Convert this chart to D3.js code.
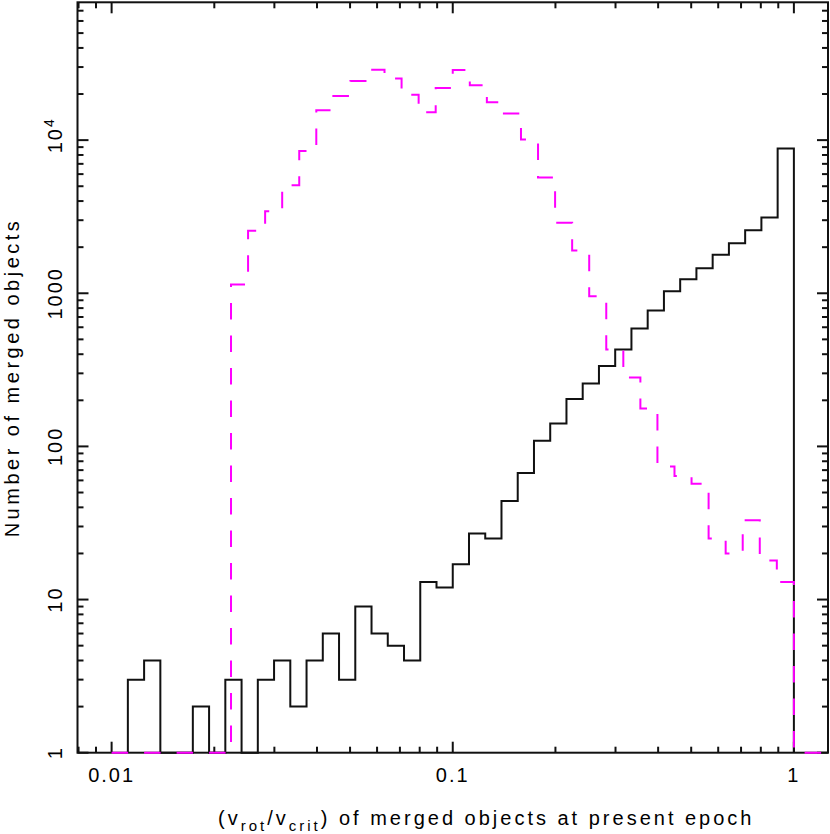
<!DOCTYPE html>
<html>
<head>
<meta charset="utf-8">
<script src="https://cdn.jsdelivr.net/npm/d3@7"></script>
<style>
  body { margin: 0; background: #fff; }
  text { font-family: "Liberation Sans", Arial, sans-serif; font-size: 20px; letter-spacing: 2px; fill: #000; }
</style>
</head>
<body>
<div id="chart"></div>
<script>
// black histogram: 21 bins per decade, first bin starts at log10 = -41/21
var blackLogStart = -41 / 21;
var blackLogStep = 1 / 21;
var blackCounts = [3, 4, 0, 0, 2, 0, 3, 0, 3, 4, 2, 4, 6, 3, 9, 6, 5, 4, 13, 12,
	17, 27, 25, 44, 67, 109, 141, 204, 258, 335, 430, 588, 771, 1030, 1235, 1458,
	1785, 2122, 2581, 3124, 8830];

// magenta (dashed) histogram: 0.05 dex bins starting at 0.01
var magentaLogStart = -2.0;
var magentaLogStep = 0.05;
var magentaCounts = [0, 0, 0, 0, 0, 0, 0, 1140, 2560, 3430, 5080, 8480, 15700,
	19400, 24300, 28800, 25300, 19800, 15200, 21900, 28700, 22800, 17700, 14900,
	10100, 5700, 2890, 1900, 956, 430, 282, 177, 74, 64, 57, 25, 20, 33, 18, 13, 0, 0];

var xTickValues = [0.01, 0.1, 1];
var xTickLabels = ["0.01", "0.1", "1"];
var yTickValues = [1, 10, 100, 1000, 10000];
var yTickLabels = ["1", "10", "100", "1000", "10^4"];

var width = 830, height = 834;
var margin = {left: 77.5, right: 2, top: 2.3, bottom: 81.3};

var svg = d3.select("#chart")
	.append("svg")
	.attr("width", width)
	.attr("height", height);

var x = d3.scaleLog()
	.domain([Math.pow(10, -2.1), Math.pow(10, 0.1)])
	.range([margin.left, width - margin.right]);

var y = d3.scaleLog()
	.domain([1, Math.pow(10, 4.9)])
	.range([height - margin.bottom, margin.top]);

// frame
svg.append("rect")
	.attr("x", x.range()[0]).attr("y", y.range()[1])
	.attr("width", x.range()[1] - x.range()[0])
	.attr("height", y.range()[0] - y.range()[1])
	.attr("fill", "none")
	.attr("stroke", "#111")
	.attr("stroke-width", 2);

// ticks on all four sides, pointing inward
var majorLen = 11, minorLen = 6;
var xb = y.range()[0], xtop = y.range()[1];
var yl = x.range()[0], yr = x.range()[1];
var ticks = svg.append("g").attr("stroke", "#111").attr("stroke-width", 2);

x.ticks().forEach(function(t) {
	var len = xTickValues.indexOf(t) >= 0 ? majorLen : minorLen;
	var px = x(t);
	ticks.append("line").attr("x1", px).attr("x2", px).attr("y1", xb).attr("y2", xb - len);
	ticks.append("line").attr("x1", px).attr("x2", px).attr("y1", xtop).attr("y2", xtop + len);
});
y.ticks().forEach(function(t) {
	var len = yTickValues.indexOf(t) >= 0 ? majorLen : minorLen;
	var py = y(t);
	ticks.append("line").attr("y1", py).attr("y2", py).attr("x1", yl).attr("x2", yl + len);
	ticks.append("line").attr("y1", py).attr("y2", py).attr("x1", yr).attr("x2", yr - len);
});

// step outline of a histogram, starting and ending on the baseline
function histPath(logStart, logStep, counts) {
	var p = d3.path();
	p.moveTo(x(Math.pow(10, logStart)), y(1));
	counts.forEach(function(c, i) {
		var lo = x(Math.pow(10, logStart + i * logStep));
		var hi = x(Math.pow(10, logStart + (i + 1) * logStep));
		p.lineTo(lo, y(Math.max(1, c)));
		p.lineTo(hi, y(Math.max(1, c)));
	});
	var last = x(Math.pow(10, logStart + counts.length * logStep));
	p.lineTo(last, y(1));
	return p.toString();
}

svg.append("path")
	.attr("d", histPath(blackLogStart, blackLogStep, blackCounts))
	.attr("fill", "none")
	.attr("stroke", "#111")
	.attr("stroke-width", 2);

svg.append("path")
	.attr("d", histPath(magentaLogStart, magentaLogStep, magentaCounts))
	.attr("fill", "none")
	.attr("stroke", "#ff00ff")
	.attr("stroke-width", 2)
	.attr("stroke-dasharray", "16.5,16");

// x tick labels
svg.selectAll(".xlab")
	.data(xTickValues)
	.enter()
	.append("text")
	.attr("x", function(d) { return x(d); })
	.attr("y", 782)
	.attr("text-anchor", "middle")
	.text(function(d, i) { return xTickLabels[i]; });

// y tick labels (rotated)
yTickValues.forEach(function(v, i) {
	var lab = yTickLabels[i];
	var t = svg.append("text")
		.attr("transform", "translate(62," + y(v) + ") rotate(-90)");
	if (lab.indexOf("^") >= 0) {
		var parts = lab.split("^");
		t.attr("text-anchor", "start");
		t.append("tspan").text(parts[0]);
		t.append("tspan").attr("dy", -8).style("font-size", "14px").text(parts[1]);
		var w = t.select("tspan").node().getComputedTextLength();
		t.attr("x", -w / 2);
	} else {
		t.attr("text-anchor", "middle").text(lab);
	}
});

// axis titles
svg.append("text")
	.attr("transform", "translate(19," + ((y.range()[0] + y.range()[1]) / 2) + ") rotate(-90)")
	.attr("text-anchor", "middle")
	.style("letter-spacing", "3.5px")
	.text("Number of merged objects");

var xt = svg.append("text")
	.attr("x", 218)
	.attr("y", 825)
	.style("letter-spacing", "3px");
xt.append("tspan").text("(v");
xt.append("tspan").attr("dy", 6).style("font-size", "15px").text("rot");
xt.append("tspan").attr("dy", -6).text("/v");
xt.append("tspan").attr("dy", 6).style("font-size", "15px").text("crit");
xt.append("tspan").attr("dy", -6).text(") of merged objects at present epoch");
</script>
</body>
</html>
